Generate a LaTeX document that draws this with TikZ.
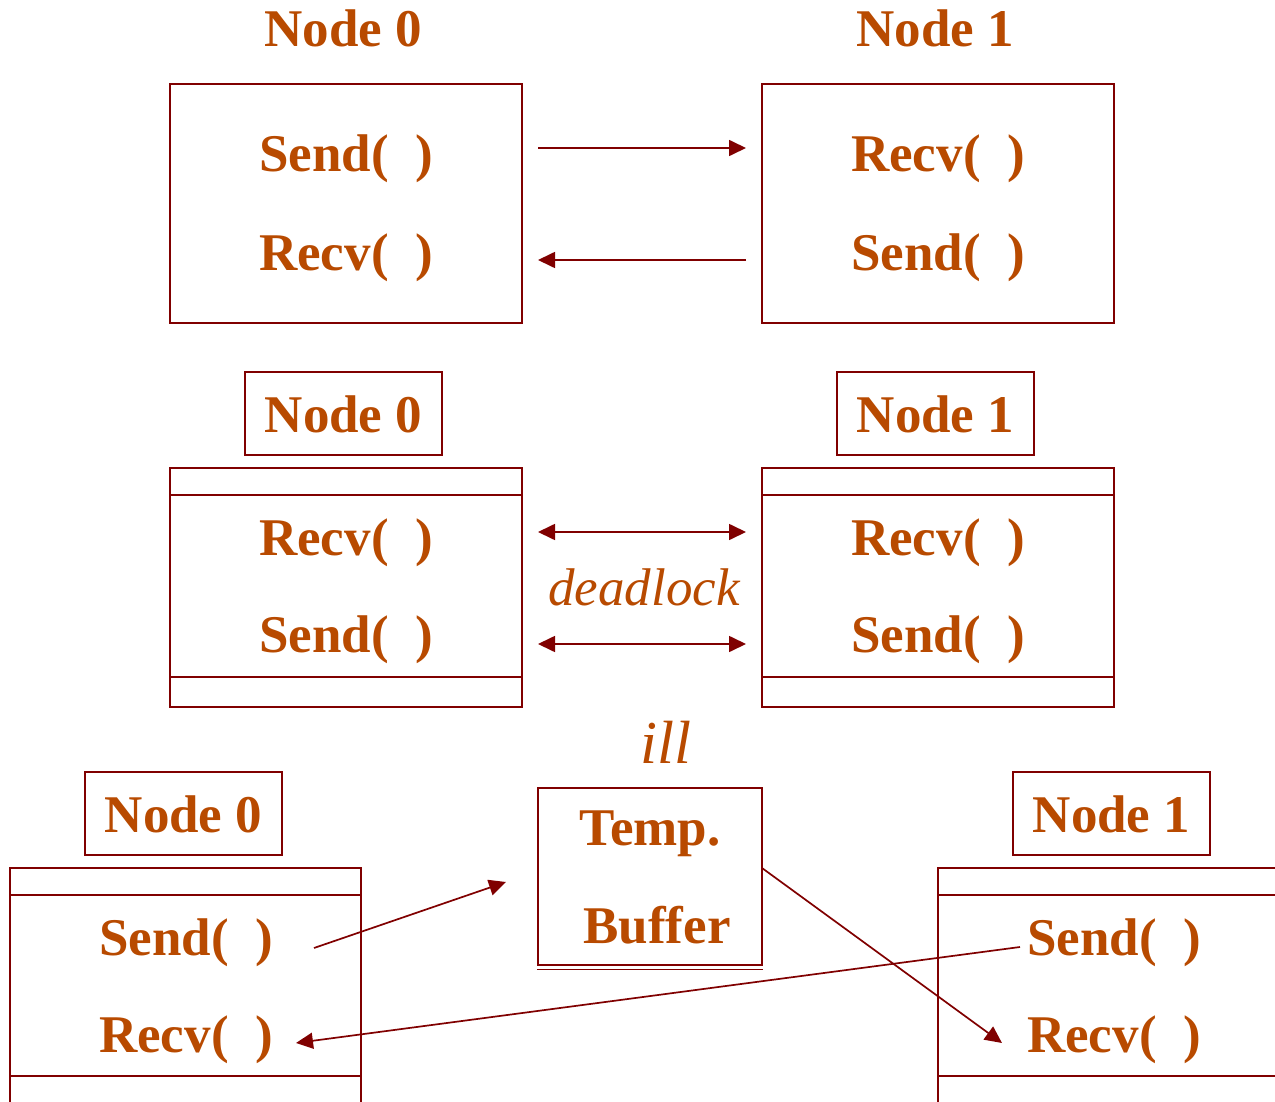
\documentclass[tikz,border=0pt]{standalone}
\usepackage{fontspec}
\setmainfont{Liberation Serif}
\usetikzlibrary{arrows.meta,calc}
\definecolor{txt}{HTML}{B84A00}
\definecolor{ln}{HTML}{800000}
\begin{document}
\begin{tikzpicture}[x=1pt,y=-1pt,
  lbl/.style={text=txt,font=\fontsize{53}{60}\selectfont\bfseries,anchor=base,inner sep=0pt},
  note/.style={text=txt,font=\fontsize{53}{60}\selectfont\itshape,anchor=base,inner sep=0pt},
  frame/.style={draw=ln,line width=1.8pt,inner sep=0pt},
  rule/.style={draw=ln,line width=1.8pt},
  tip/.style={Triangle[length=17pt,width=16pt]},
  conn/.style={draw=ln,line width=1.7pt,-{Triangle[length=17pt,width=16pt]}},
  bconn/.style={draw=ln,line width=1.7pt,{Triangle[length=17pt,width=16pt]}-{Triangle[length=17pt,width=16pt]}}
]
\useasboundingbox (0,0) rectangle (1275,1102);
\clip (0,0) rectangle (1275,1102);

% ---------- blocking send / recv ----------
\node[lbl] (t0) at (343,47) {Node 0};
\node[lbl] (t1) at (935,47) {Node 1};
\node[frame,minimum width=352pt,minimum height=239pt] (A0) at (346,203.5) {};
\node[frame,minimum width=352pt,minimum height=239pt] (A1) at (938,203.5) {};
\node[lbl] (a0s) at (346,172) {Send(\ \ )};
\node[lbl] (a0r) at (346,270) {Recv(\ \ )};
\node[lbl] (a1r) at (938,172) {Recv(\ \ )};
\node[lbl] (a1s) at (938,270) {Send(\ \ )};
\coordinate (p1) at (538,148);
\coordinate (p2) at (746,148);
\coordinate (p3) at (746,260);
\coordinate (p4) at (538,260);
\draw[conn] (p1) -- (p2);
\draw[conn] (p3) -- (p4);

% ---------- both receive first ----------
\node[frame,minimum width=197pt,minimum height=83pt] (n0) at (343.5,413.5) {};
\node[frame,minimum width=197pt,minimum height=83pt] (n1) at (935.5,413.5) {};
\node[lbl] at (n0.center) [yshift=-18.5pt] {Node 0};
\node[lbl] at (n1.center) [yshift=-18.5pt] {Node 1};
\node[frame,minimum width=352pt,minimum height=239pt] (B0) at (346,587.5) {};
\node[frame,minimum width=352pt,minimum height=239pt] (B1) at (938,587.5) {};
\foreach \b in {B0,B1}{
  \draw[rule] ([yshift=-28pt]\b.north west) -- ([yshift=-28pt]\b.north east);
  \draw[rule] ([yshift=31pt]\b.south west) -- ([yshift=31pt]\b.south east);
}
\node[lbl] (b0r) at (346,555) {Recv(\ \ )};
\node[lbl] (b0s) at (346,652) {Send(\ \ )};
\node[lbl] (b1r) at (938,555) {Recv(\ \ )};
\node[lbl] (b1s) at (938,652) {Send(\ \ )};
\coordinate (q1) at (538,532);
\coordinate (q2) at (746,532);
\coordinate (q3) at (538,644);
\coordinate (q4) at (746,644);
\draw[bconn] (q1) -- (q2);
\draw[bconn] (q3) -- (q4);
\node[note] (dl) at (644,605) {deadlock};

% ---------- buffered send ----------
\node[frame,minimum width=197pt,minimum height=83pt] (c0) at (183.5,813.5) {};
\node[frame,minimum width=197pt,minimum height=83pt] (c1) at (1111.5,813.5) {};
\node[lbl] at (c0.center) [yshift=-18.5pt] {Node 0};
\node[lbl] at (c1.center) [yshift=-18.5pt] {Node 1};
\node[frame,minimum width=351pt,minimum height=260pt] (C0) at (185.5,998) {};
\node[frame,minimum width=370pt,minimum height=260pt] (C1) at (1123,998) {};
\foreach \b in {C0,C1}{
  \draw[rule] ([yshift=-28pt]\b.north west) -- ([yshift=-28pt]\b.north east);
  \draw[rule] ([yshift=53pt]\b.south west) -- ([yshift=53pt]\b.south east);
}
\node[lbl] (c0s) at (186,955) {Send(\ \ )};
\node[lbl] (c0r) at (186,1052) {Recv(\ \ )};
\node[lbl] (c1s) at (1114,955) {Send(\ \ )};
\node[lbl] (c1r) at (1114,1052) {Recv(\ \ )};

\node[frame,minimum width=224pt,minimum height=177pt] (buf) at (650,876.5) {};
\draw[rule,line width=1.6pt] ([yshift=-3.5pt]buf.south west) -- ([yshift=-3.5pt]buf.south east);
\node[lbl] (tmp) at (650,845) {Temp.};
\node[lbl] (bfr) at (657,943) {Buffer};
\node[note,font=\fontsize{61}{66}\selectfont\itshape] (ill) at (666,763) {ill};

\coordinate (r1) at (314,948);
\coordinate (r2) at (506,882);
\coordinate (r3) at (762,868);
\coordinate (r4) at (1002,1043);
\coordinate (r5) at (1020,947);
\coordinate (r6) at (296,1043);
\draw[conn] (r1) -- (r2);
\draw[conn] (r3) -- (r4);
\draw[conn] (r5) -- (r6);
\end{tikzpicture}
\end{document}
